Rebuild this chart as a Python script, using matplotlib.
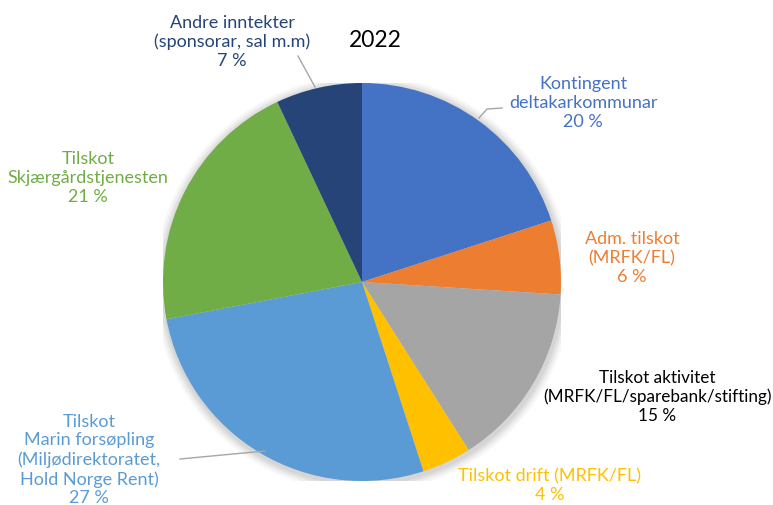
import numpy as np
import matplotlib.pyplot as plt

plt.rcParams['font.family'] = ['Lato', 'DejaVu Sans']

# data
labels = ["Kontingent\ndeltakarkommunar", "Adm. tilskot\n(MRFK/FL)",
          "Tilskot aktivitet\n(MRFK/FL/sparebank/stifting)", "Tilskot drift (MRFK/FL)",
          "Tilskot\nMarin forsøpling\n(Miljødirektoratet,\nHold Norge Rent)",
          "Tilskot\nSkjærgårdstjenesten", "Andre inntekter\n(sponsorar, sal m.m)"]
shares = [20, 6, 15, 4, 27, 21, 7]
colors = ["#4472C4", "#ED7D31", "#A5A5A5", "#FFC000", "#5B9BD5", "#70AD47", "#264478"]
label_colors = ["#4472C4", "#ED7D31", "#000000", "#FFC000", "#5B9BD5", "#70AD47", "#264478"]
# label centres (pixels) and leader line points
label_pos = [(583, 103), (632, 258), (657, 397), (550, 486), (89, 460), (88, 178), (232, 42)]
label_size = [13, 13, 12.3, 13, 13, 13, 13]
leaders = {0: [(479, 119), (487, 110), (502, 109)],
           4: [(180, 460), (265, 452)],
           6: [(298, 57), (315, 88)]}

W, H = 773, 506
fig = plt.figure(figsize=(W / 100, H / 100), dpi=100)
cx, cy, r = 362, 283, 199
ax = fig.add_axes([(cx - r) / W, (H - cy - r) / H, 2 * r / W, 2 * r / H])

# soft shadow
for i, a in enumerate([0.05, 0.05, 0.04, 0.03]):
    circ = plt.Circle((0.005, -0.01), 1 + 0.012 * (i + 1), color='black', alpha=a, lw=0)
    ax.add_artist(circ)

ax.pie(shares, colors=colors, startangle=90, counterclock=False, radius=1,
       wedgeprops=dict(linewidth=0))
ax.set_xlim(-1, 1)
ax.set_ylim(-1, 1)
ax.set_aspect('auto')
ax.axis('off')

overlay = fig.add_axes([0, 0, 1, 1])
overlay.set_xlim(0, W)
overlay.set_ylim(H, 0)
overlay.axis('off')

for i in range(len(shares)):
    x, y = label_pos[i]
    overlay.text(x, y, labels[i] + "\n%d %%" % shares[i], ha='center', va='center',
                 color=label_colors[i], fontsize=label_size[i], linespacing=1.22)

for k, pts in leaders.items():
    xs = [p[0] for p in pts]
    ys = [p[1] for p in pts]
    overlay.plot(xs, ys, color='#A6A6A6', lw=1)

overlay.text(375, 40, "2022", ha='center', va='center', fontsize=16.5, color='black')

fig.savefig("out.png", dpi=100)
